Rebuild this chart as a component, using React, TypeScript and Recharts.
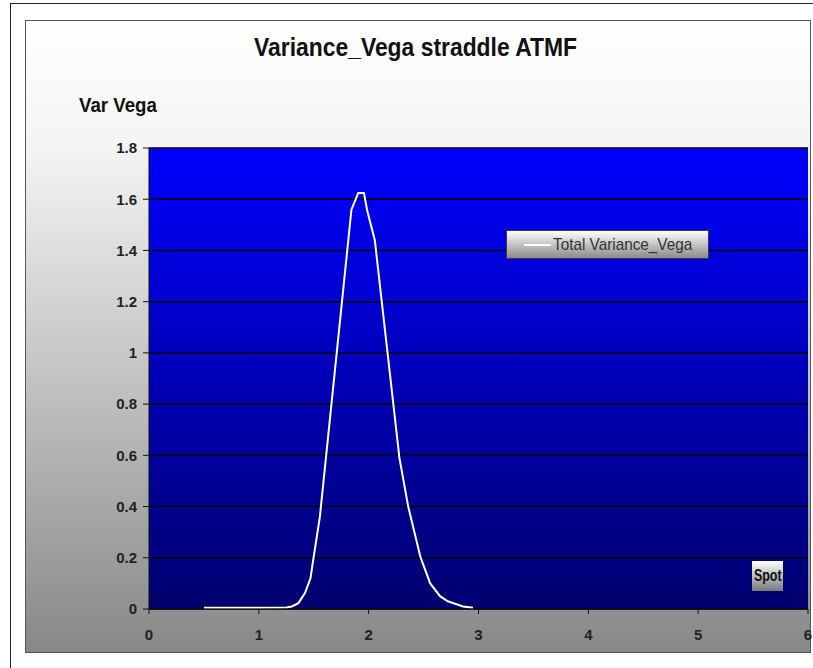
import React from "react";
import { LineChart, Line, XAxis, YAxis, CartesianGrid, Legend } from "recharts";

// spot grid and the straddle's total variance vega at each spot
const spotLevels = [
  0.5, 1.0, 1.25, 1.3, 1.36, 1.42, 1.47, 1.5, 1.556, 1.843, 1.905, 1.957,
  1.986, 2.056, 2.28, 2.36, 2.47, 2.56, 2.65, 2.72, 2.86, 2.95,
];
const totalVarianceVega = [
  0.005, 0.005, 0.006, 0.01, 0.023, 0.062, 0.12, 0.205, 0.361, 1.559, 1.624,
  1.624, 1.557, 1.44, 0.59, 0.4, 0.205, 0.1, 0.05, 0.03, 0.01, 0.005,
];

const xTicks = [0, 1, 2, 3, 4, 5, 6];
const yTicks = [0, 0.2, 0.4, 0.6, 0.8, 1, 1.2, 1.4, 1.6, 1.8];

const data = spotLevels.map((s, i) => ({ spot: s, vega: totalVarianceVega[i] }));

const FONT = "'Liberation Sans', Arial, sans-serif";

// narrow-looking text: squeeze horizontally around a given origin
const squeeze = (k: number, origin = "left"): React.CSSProperties => ({
  display: "inline-block",
  transform: `scaleX(${k})`,
  transformOrigin: origin,
  whiteSpace: "nowrap",
});

function LegendBox() {
  return (
    <div
      style={{
        width: 203,
        height: 29,
        boxSizing: "border-box",
        border: "1px solid #3a3a3a",
        background: "linear-gradient(#ffffff, #8a8a8a)",
        display: "flex",
        alignItems: "center",
        fontFamily: FONT,
        fontSize: 17,
        color: "#333",
        whiteSpace: "nowrap",
        overflow: "hidden",
      }}
    >
      <span
        style={{
          display: "inline-block",
          width: 29,
          height: 2,
          background: "#fff",
          marginLeft: 17,
          marginRight: 2,
        }}
      />
      <span style={squeeze(0.9)}>Total Variance_Vega</span>
    </div>
  );
}

export default function App() {
  return (
    <div
      style={{
        position: "absolute",
        left: 0,
        top: 0,
        width: 813,
        height: 668,
        background: "#fff",
        overflow: "hidden",
      }}
    >
      {/* outer frame */}
      <div
        style={{
          position: "absolute",
          left: 10,
          top: 3,
          width: 820,
          height: 700,
          borderLeft: "1px solid #222",
          borderTop: "1px solid #222",
        }}
      />
      {/* chart area */}
      <div
        style={{
          position: "absolute",
          left: 25,
          top: 20,
          width: 786,
          height: 633,
          boxSizing: "border-box",
          border: "1px solid #555",
          background: "linear-gradient(#ffffff 0%, #f4f4f4 20%, #888888 100%)",
        }}
      />
      <div
        style={{
          position: "absolute",
          left: 166,
          top: 34,
          width: 500,
          textAlign: "center",
          fontFamily: FONT,
          fontWeight: "bold",
          fontSize: 26,
          lineHeight: 1,
          color: "#111",
        }}
      >
        <span style={squeeze(0.88, "center")}>Variance_Vega straddle ATMF</span>
      </div>
      <div
        style={{
          position: "absolute",
          left: 79,
          top: 94,
          fontFamily: FONT,
          fontWeight: "bold",
          fontSize: 21,
          lineHeight: 1,
          color: "#111",
        }}
      >
        <span style={squeeze(0.89)}>Var Vega</span>
      </div>
      <div style={{ position: "absolute", left: 0, top: 0 }}>
        <LineChart
          width={813}
          height={668}
          data={data}
          margin={{ top: 148, right: 5, bottom: 29, left: 89 }}
        >
          <defs>
            <linearGradient id="plotFill" x1="0" y1="0" x2="0" y2="1">
              <stop offset="0%" stopColor="#0000ff" />
              <stop offset="100%" stopColor="#00006e" />
            </linearGradient>
          </defs>
          <CartesianGrid
            vertical={false}
            stroke="#000"
            strokeWidth={1.5}
            fill="url(#plotFill)"
            fillOpacity={1}
          />
          <XAxis
            dataKey="spot"
            type="number"
            domain={[0, 6]}
            ticks={xTicks}
            height={30}
            tickSize={5}
            tickMargin={15}
            axisLine={{ stroke: "#111" }}
            tickLine={{ stroke: "#111" }}
            tick={{ fill: "#222", fontSize: 15, fontWeight: "bold", fontFamily: FONT }}
          />
          <YAxis
            type="number"
            domain={[0, 1.8]}
            ticks={yTicks}
            width={60}
            tickSize={6}
            tickMargin={6}
            axisLine={{ stroke: "#111" }}
            tickLine={{ stroke: "#111" }}
            tick={{ fill: "#222", fontSize: 15, fontWeight: "bold", fontFamily: FONT }}
            tickFormatter={(v: number) => String(Number(v.toFixed(1)))}
          />
          <Legend
            layout="horizontal"
            verticalAlign="middle"
            align="center"
            wrapperStyle={{ left: 506, top: 230, width: 203 }}
            content={() => <LegendBox />}
          />
          <Line
            type="linear"
            dataKey="vega"
            name="Total Variance_Vega"
            stroke="#ffffff"
            strokeWidth={2}
            dot={false}
            isAnimationActive={false}
          />
        </LineChart>
      </div>
      <div
        style={{
          position: "absolute",
          left: 752,
          top: 561,
          width: 31,
          height: 30,
          boxSizing: "border-box",
          background: "linear-gradient(#ffffff, #7a7a7a)",
          display: "flex",
          alignItems: "center",
          justifyContent: "center",
          fontFamily: FONT,
          fontWeight: "bold",
          fontSize: 16,
          color: "#111",
        }}
      >
        <span style={squeeze(0.78, "center")}>Spot</span>
      </div>
    </div>
  );
}
